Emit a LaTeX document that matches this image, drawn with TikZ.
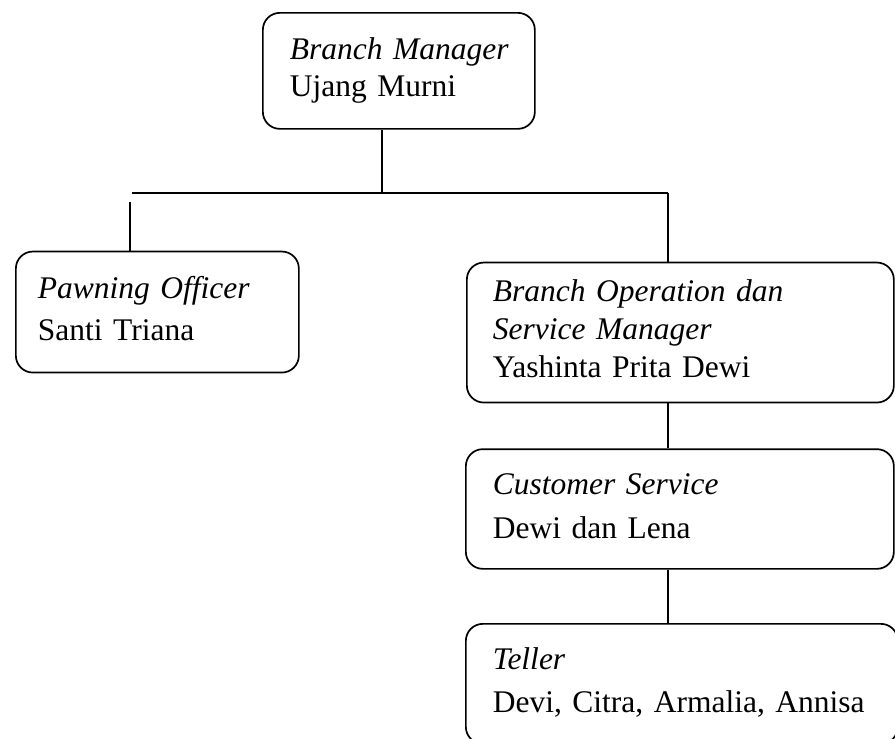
\documentclass[tikz,border=0pt]{standalone}
\usepackage{fontspec}
\setmainfont{Liberation Serif}
\newcommand\mytopstrut{\rule{0pt}{22pt}}
\newcommand\mybotstrut{\rule[-8pt]{0pt}{8pt}}
\begin{document}
\begin{tikzpicture}[x=1pt,y=-1pt,
  orgbox/.style={draw,line width=1.7pt,rounded corners=17pt,anchor=north west,inner ysep=0pt,align=left},
  conn/.style={line width=1.7pt}]
\useasboundingbox (0,0) rectangle (895,739);
\node[orgbox,minimum height=116pt,text width=218pt,inner xsep=27pt,font=\fontsize{31.5}{37}\selectfont] (b1) at (262,12)
  {\mbox{\mytopstrut\textit{Branch Manager}}\\\mbox{Ujang Murni\mybotstrut}};
\node[orgbox,minimum height=121pt,text width=239pt,inner xsep=22pt,font=\fontsize{31.5}{42}\selectfont] (b2) at (15,250.7)
  {\mbox{\mytopstrut\textit{Pawning Officer}}\\\mbox{Santi Triana\mybotstrut}};
\node[orgbox,minimum height=140pt,text width=375pt,inner xsep=26pt,font=\fontsize{31.5}{37.8}\selectfont] (b3) at (466,261.7)
  {\mbox{\mytopstrut\textit{Branch Operation dan}}\\\mbox{\textit{Service Manager}}\\\mbox{Yashinta Prita Dewi\mybotstrut}};
\node[orgbox,minimum height=119.7pt,text width=374pt,inner xsep=27pt,font=\fontsize{31.5}{44}\selectfont] (b4) at (465,448.3)
  {\mbox{\mytopstrut\textit{Customer Service}}\\\mbox{Dewi dan Lena\mybotstrut}};
\node[orgbox,minimum height=120pt,text width=378pt,inner xsep=27pt,font=\fontsize{31.5}{43.7}\selectfont] (b5) at (465,623)
  {\mbox{\mytopstrut\textit{Teller}}\\\mbox{Devi, Citra, Armalia, Annisa\mybotstrut}};
\coordinate (j) at (382,193);
\coordinate (hl) at (132,193);
\coordinate (hr) at (668,193);
\coordinate (lt) at (130,202);
\draw[conn] (b1.south -| j) -- (j);
\draw[conn] (hl) -- (hr);
\draw[conn] (lt) -- (lt |- b2.north);
\draw[conn] (hr) -- (hr |- b3.north);
\draw[conn] (b3.south -| hr) -- (b4.north -| hr);
\draw[conn] (b4.south -| hr) -- (b5.north -| hr);
\end{tikzpicture}
\end{document}
